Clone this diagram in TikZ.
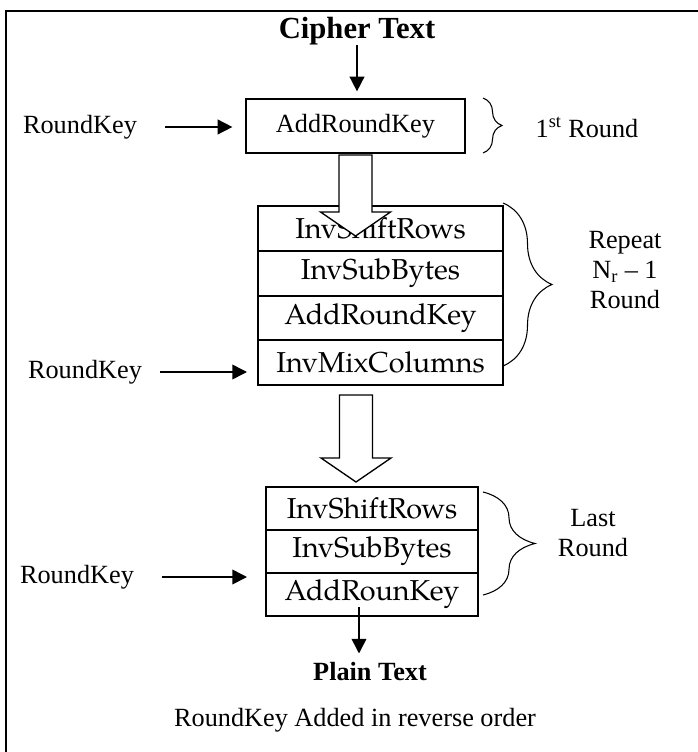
\documentclass[tikz,border=0pt]{standalone}
\usepackage{fontspec}
\setmainfont{Liberation Serif}
\newfontfamily\palfont{texgyrepagella-regular.otf}
\usetikzlibrary{arrows.meta,positioning,decorations.pathreplacing}

% hollow arrow: #1 = x, #2 = top, #3 = tip
\newcommand{\bigarrow}[3]{%
  \draw[fill=white,line width=1pt] (#1-16.5,#2) -- (#1+16.5,#2) -- (#1+16.5,#3-24)
    -- (#1+35,#3-24) -- (#1,#3) -- (#1-35,#3-24) -- (#1-16.5,#3-24) -- cycle;}

\begin{document}
\begin{tikzpicture}[x=0.75pt,y=-0.75pt,
  txt/.style={font=\fontsize{19.7}{22.5}\selectfont,inner sep=0pt},
  heading/.style={font=\fontsize{#1}{#1}\selectfont\bfseries,inner sep=0pt},
  row/.style={draw,line width=1.5pt,inner sep=0pt,outer sep=0pt,
    minimum width=#1,font=\palfont\fontsize{21.6}{24}\selectfont},
  arr/.style={-{Triangle[length=11pt,width=11pt]},line width=1.2pt},
  brc/.style={decorate,decoration={brace,amplitude=#1},line width=0.8pt}]
  \useasboundingbox (0,0) rectangle (697,752);
  %%% frame
  \draw[line width=1.2pt] (6,11) rectangle (710,765);
  %%% first round
  \node[heading=23] (cipher) at (357,31) {Cipher Text};
  \node[draw,txt,line width=0.9pt,minimum width=164.25pt,minimum height=40.5pt]
    (ark0) at (355.5,126) {AddRoundKey};
  \node[txt] (rk1) at (80,127) {RoundKey};
  \draw[arr,shorten >=5.25pt] (cipher.south) -- (cipher.south |- ark0.north);
  \draw[arr,shorten <=21pt,shorten >=9.75pt] (rk1.east) -- (rk1.east -| ark0.west);
  \draw[brc=14.25pt] (483,98) -- (483,153);
  \node[txt] (r1) at (587,127) {1\textsuperscript{st} Round};
  %%% repeated rounds
  \node[row=183.75pt,minimum height=33.56pt] (m1) at (380.5,228.5) {InvShiftRows};
  \node[row=183.75pt,minimum height=33.56pt] (m2) [below=0pt of m1] {InvSubBytes};
  \node[row=183.75pt,minimum height=33.56pt] (m3) [below=0pt of m2] {AddRoundKey};
  \node[row=183.75pt,minimum height=33.56pt] (m4) [below=0pt of m3] {InvMixColumns};
  \bigarrow{355.5}{155}{236}
  \node[txt] (rk2) at (85,372) {RoundKey};
  \draw[arr,shorten <=13.5pt,shorten >=8.25pt] (rk2.east) -- (rk2.east -| m4.west);
  \draw[brc=36.75pt] (503,203) -- (503,366);
  \node[txt,align=center] (rep) at (625,270) {Repeat\\N\textsubscript{r} – 1\\Round};
  \bigarrow{356}{395}{482}
  %%% last round
  \node[row=159pt,minimum height=32.25pt] (l1) at (372,508.5) {InvShiftRows};
  \node[row=159pt,minimum height=32.25pt] (l2) [below=0pt of l1] {InvSubBytes};
  \node[row=159pt,minimum height=32.25pt] (l3) [below=0pt of l2] {AddRounKey};
  \node[txt] (rk3) at (77,577) {RoundKey};
  \draw[arr,shorten <=21pt,shorten >=14.25pt] (rk3.east) -- (rk3.east -| l3.west);
  \draw[brc=39pt] (483,492) -- (483,595);
  \node[txt,align=center] (lst) at (593,533) {Last\\Round};
  %%% output
  \node[heading=19.7] (plain) at (370,672) {Plain Text};
  \draw[arr] ([xshift=-9.75pt,yshift=6.75pt]l3.south)
    -- ([xshift=-9.75pt,yshift=6.75pt]l3.south |- plain.north);
  \node[txt] (note) at (355,720) {RoundKey Added in reverse order};
\end{tikzpicture}
\end{document}
